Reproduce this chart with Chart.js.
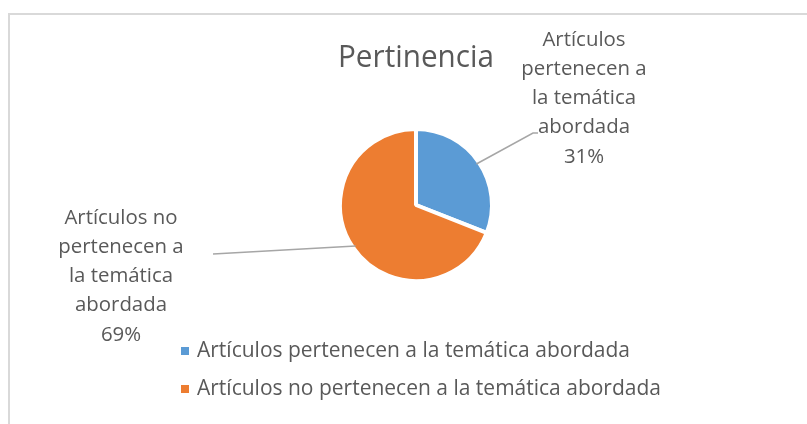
<!DOCTYPE html>
<html>
<head>
<meta charset="utf-8">
<script src="https://cdn.jsdelivr.net/npm/chart.js@4.4.1/dist/chart.umd.min.js"></script>
<style>
  html, body { margin: 0; padding: 0; background: #fff; }
  #wrap { width: 807px; height: 424px; position: relative; }
</style>
</head>
<body>
<div id="wrap"><canvas id="pie"></canvas></div>
<script>
// --- data ---
const titleText = 'Pertinencia';
const categories = [
    'Artículos pertenecen a la temática abordada',
    'Artículos no pertenecen a la temática abordada'
];
const percentages = [31, 69];
const sliceColors = ['#5B9BD5', '#ED7D31'];

// wrapped text of the data labels (as in the original)
const labelLines = [
    ['Artículos', 'pertenecen a', 'la temática', 'abordada'],
    ['Artículos no', 'pertenecen a', 'la temática', 'abordada']
];

// --- layout of the annotations ---
const textColor = '#595959';
const labelFont = '20.4px "Open Sans"';
const legendFont = '21px "Open Sans"';
const labelBoxes = [
    { cx: 584, top: 40, lineEnd: [533, 133], tail: [538, 133] },
    { cx: 121, top: 218, lineEnd: [213, 254], tail: null }
];

const decorPlugin = {
    id: 'decor',
    beforeDraw(chart) {
        const c = chart.ctx;
        c.save();
        c.strokeStyle = '#d9d9d9';
        c.lineWidth = 2;
        c.strokeRect(9, 14, 820, 430);
        c.restore();
    },
    afterDraw(chart) {
        const c = chart.ctx;
        const arcs = chart.getDatasetMeta(0).data;
        c.save();

        // leader lines + data labels
        arcs.forEach((arc, i) => {
            const p = arc.getProps(['x', 'y', 'startAngle', 'endAngle', 'outerRadius'], true);
            const mid = (p.startAngle + p.endAngle) / 2;
            const r = p.outerRadius - 3;
            const box = labelBoxes[i];
            c.strokeStyle = '#a6a6a6';
            c.lineWidth = 1.5;
            c.beginPath();
            c.moveTo(p.x + Math.cos(mid) * r, p.y + Math.sin(mid) * r);
            c.lineTo(box.lineEnd[0], box.lineEnd[1]);
            if (box.tail) c.lineTo(box.tail[0], box.tail[1]);
            c.stroke();

            const lines = labelLines[i].concat([percentages[i] + '%']);
            c.fillStyle = textColor;
            c.font = labelFont;
            c.textAlign = 'center';
            c.textBaseline = 'middle';
            lines.forEach((ln, k) => c.fillText(ln, box.cx, box.top + k * 29.2));
        });

        // legend
        c.textAlign = 'left';
        c.textBaseline = 'middle';
        c.font = legendFont;
        categories.forEach((cat, i) => {
            const y = 351 + i * 38;
            c.fillStyle = sliceColors[i];
            c.fillRect(181, y - 4, 8, 8);
            c.fillStyle = textColor;
            c.fillText(cat, 197, y);
        });
        c.restore();
    }
};

const ctx = document.getElementById('pie').getContext('2d');
new Chart(ctx, {
    type: 'pie',
    data: {
        labels: categories,
        datasets: [{
            data: percentages,
            backgroundColor: sliceColors,
            borderColor: '#ffffff',
            borderWidth: 4
        }]
    },
    options: {
        responsive: true,
        maintainAspectRatio: false,
        animation: false,
        layout: { padding: { left: 338, right: 313, top: 0, bottom: 141 } },
        plugins: {
            legend: { display: false },
            tooltip: { enabled: false },
            title: {
                display: true,
                text: titleText,
                color: textColor,
                font: { family: '"Open Sans"', size: 31, weight: 'normal', lineHeight: 1.2 },
                padding: { top: 39.4, bottom: 50.4 }
            }
        }
    },
    plugins: [decorPlugin]
});
</script>
</body>
</html>
